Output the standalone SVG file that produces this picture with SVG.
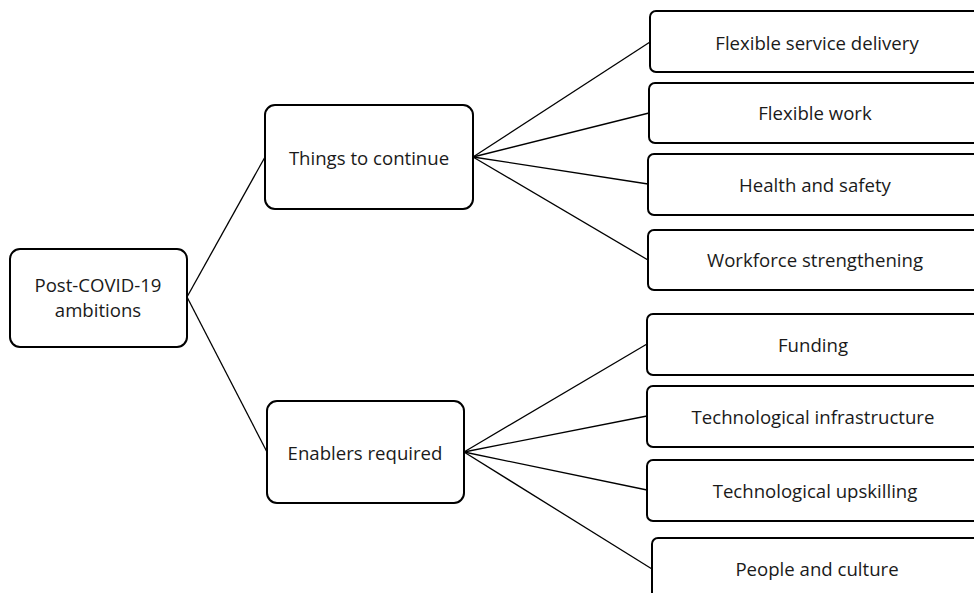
<svg xmlns="http://www.w3.org/2000/svg" width="974" height="593" viewBox="0 0 974 593">
  <style>
    .box { fill: #ffffff; stroke: #000000; stroke-width: 2; }
    .lbl { font-family: "Open Sans", "Noto Sans", "Liberation Sans", sans-serif; font-size: 18.6px; fill: #1a1a1a; text-anchor: middle; dominant-baseline: central; }
    .conn line { stroke: #000000; stroke-width: 1.3; }
  </style>
  <rect x="0" y="0" width="974" height="593" fill="#ffffff"/>

  <g id="connectors" class="conn">
    <line x1="187" y1="297" x2="265" y2="157"/>
    <line x1="187" y1="297" x2="267" y2="452"/>
    <line x1="473" y1="157" x2="650" y2="42"/>
    <line x1="473" y1="157" x2="649" y2="113"/>
    <line x1="473" y1="157" x2="648" y2="184"/>
    <line x1="473" y1="157" x2="648" y2="260"/>
    <line x1="464" y1="452" x2="647" y2="344"/>
    <line x1="464" y1="452" x2="647" y2="416"/>
    <line x1="464" y1="452" x2="647" y2="490"/>
    <line x1="464" y1="452" x2="652" y2="569"/>
  </g>

  <g id="root">
    <rect class="box" x="10" y="249" width="177" height="98" rx="10"/>
    <text class="lbl" x="98" y="284">Post-COVID-19</text>
    <text class="lbl" x="98" y="309">ambitions</text>
  </g>

  <g id="continue">
    <rect class="box" x="265" y="105" width="208" height="104" rx="10"/>
    <text class="lbl" x="369" y="157">Things to continue</text>
  </g>

  <g id="enablers">
    <rect class="box" x="267" y="401" width="197" height="102" rx="10"/>
    <text class="lbl" x="365" y="452">Enablers required</text>
  </g>

  <g id="service-delivery">
    <rect class="box" x="650" y="11" width="340" height="61" rx="6"/>
    <text class="lbl" x="817" y="42">Flexible service delivery</text>
  </g>
  <g id="flexible-work">
    <rect class="box" x="649" y="83" width="340" height="60" rx="6"/>
    <text class="lbl" x="815" y="112">Flexible work</text>
  </g>
  <g id="health-safety">
    <rect class="box" x="648" y="154" width="340" height="61" rx="6"/>
    <text class="lbl" x="815" y="184">Health and safety</text>
  </g>
  <g id="workforce">
    <rect class="box" x="648" y="230" width="340" height="60" rx="6"/>
    <text class="lbl" x="815" y="259">Workforce strengthening</text>
  </g>
  <g id="funding">
    <rect class="box" x="647" y="314" width="340" height="61" rx="6"/>
    <text class="lbl" x="813" y="344">Funding</text>
  </g>
  <g id="tech-infrastructure">
    <rect class="box" x="647" y="386" width="340" height="61" rx="6"/>
    <text class="lbl" x="813" y="416">Technological infrastructure</text>
  </g>
  <g id="tech-upskilling">
    <rect class="box" x="647" y="460" width="340" height="61" rx="6"/>
    <text class="lbl" x="815" y="490">Technological upskilling</text>
  </g>
  <g id="people-culture">
    <rect class="box" x="652" y="538" width="340" height="70" rx="6"/>
    <text class="lbl" x="817" y="568">People and culture</text>
  </g>
</svg>
